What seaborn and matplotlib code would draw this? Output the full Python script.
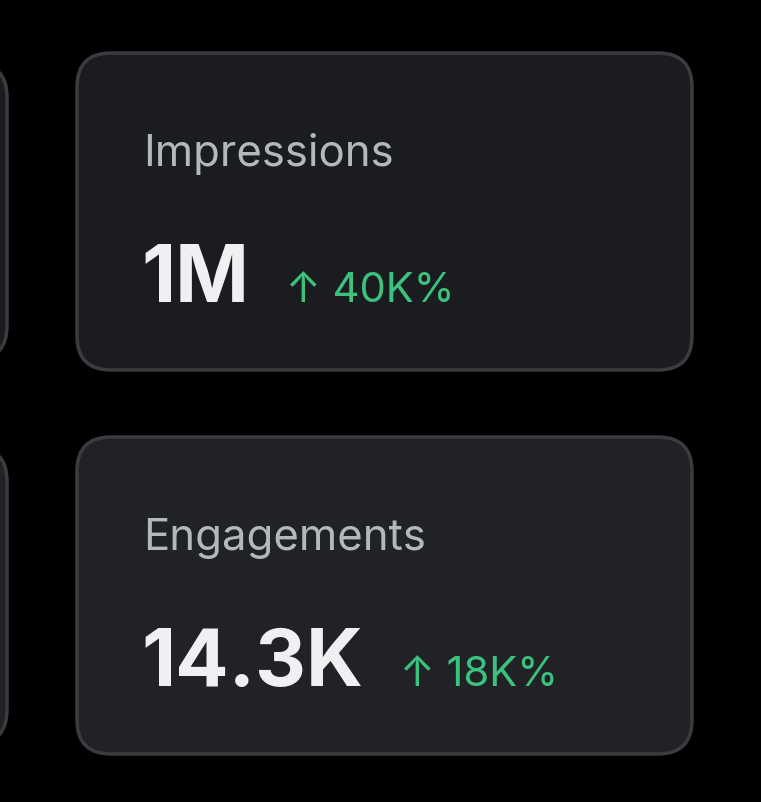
import matplotlib
matplotlib.use("Agg")
import matplotlib.pyplot as plt
import seaborn as sns
from matplotlib.patches import FancyBboxPatch

metric_names = ["Impressions", "Engagements"]
metric_values = ["1M", "14.3K"]
metric_changes = ["40K%", "18K%"]
card_fills = ["#1b1c1f", "#202225"]

sns.set_style("dark", {"axes.facecolor": "black", "figure.facecolor": "black"})
plt.rcParams["font.family"] = ["Inter", "DejaVu Sans"]

W, H = 761, 802
fig = plt.figure(figsize=(W / 100, H / 100), dpi=100)
ax = fig.add_axes([0, 0, 1, 1])
ax.set_xlim(0, W)
ax.set_ylim(H, 0)
ax.axis("off")

card_top = [53, 437]
card_h = 317
for i, name in enumerate(metric_names):
    y0 = card_top[i]
    # partially visible neighbour card on the left edge
    ax.add_patch(FancyBboxPatch((-100, y0 + 10), 107, card_h - 20,
                                boxstyle="round,pad=0,rounding_size=34",
                                fc=card_fills[i], ec="#3a3c40", lw=2.5))
    ax.add_patch(FancyBboxPatch((77, y0), 615, card_h,
                                boxstyle="round,pad=0,rounding_size=34",
                                fc=card_fills[i], ec="#3a3c40", lw=2.5))
    ax.text(143, y0 + 113, name, fontsize=31.5, color="#b4b7bb",
            va="baseline", ha="left")
    t = ax.text(141, y0 + 249, metric_values[i], fontsize=57, color="#eef0f1",
                fontweight="bold", va="baseline", ha="left")
    fig.canvas.draw()
    bb = t.get_window_extent()
    ax.text(bb.x1 + 37, y0 + 249, "\u2191 " + metric_changes[i], fontsize=30,
            color="#3cc27f", va="baseline", ha="left",
            family=["Inter", "DejaVu Sans"])

fig.savefig("out.png", dpi=100, facecolor="black")
